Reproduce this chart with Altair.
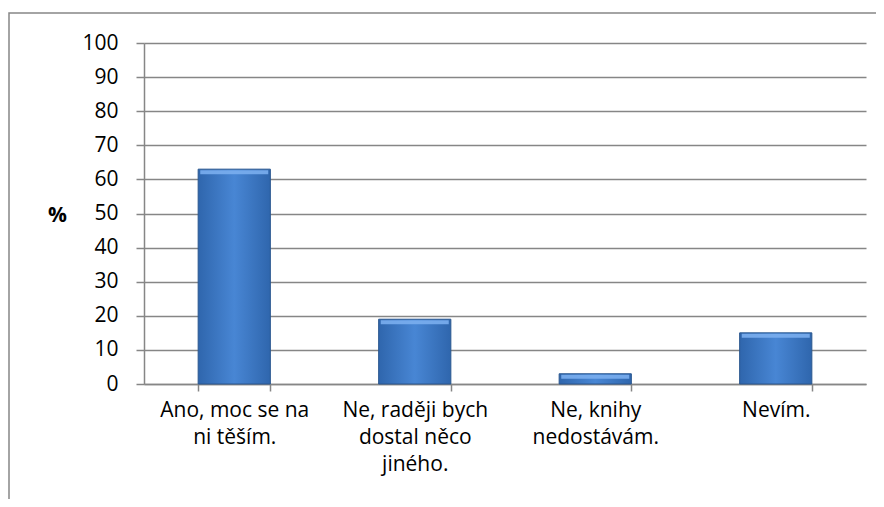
import altair as alt
import pandas as pd

categories = [
    "Ano, moc se na\nni těším.",
    "Ne, raději bych\ndostal něco\njiného.",
    "Ne, knihy\nnedostávám.",
    "Nevím.",
]
values = [63, 19, 3, 15]
y_ticks = list(range(0, 101, 10))

df = pd.DataFrame({"kategorie": categories, "procenta": values})

FONT = "Open Sans"
FS = 21
W, H = 722, 341

x_enc = alt.X(
    "kategorie:N",
    sort=categories,
    scale=alt.Scale(paddingInner=0.6, paddingOuter=0.3),
    axis=alt.Axis(
        title=None,
        labelAngle=0,
        labelExpr="split(datum.label, '\\n')",
        labelFont=FONT,
        labelFontSize=FS,
        labelColor="#000000",
        labelLineHeight=27,
        labelPadding=8,
        labelAlign="center",
        labelBaseline="top",
        labelOverlap=False,
        tickBand="extent",
        tickSize=7,
        tickColor="#868686",
        domainColor="#868686",
        domainWidth=1.5,
        tickWidth=1.5,
        grid=False,
    ),
)

y_enc = alt.Y(
    "procenta:Q",
    scale=alt.Scale(domain=[0, 100], nice=False),
    axis=alt.Axis(
        values=y_ticks,
        title="%",
        titleAngle=0,
        titleFont=FONT,
        titleFontSize=FS,
        titleFontWeight="bold",
        titleColor="#000000",
        titleX=-87,
        titleY=172,
        titleAlign="center",
        titleBaseline="middle",
        labelFont=FONT,
        labelFontSize=FS,
        labelColor="#000000",
        labelPadding=18,
        labelOverlap=False,
        tickSize=8,
        tickColor="#868686",
        tickWidth=1.5,
        domainColor="#868686",
        domainWidth=1.5,
        gridColor="#868686",
        gridWidth=1.5,
    ),
)

bars = alt.Chart(df).mark_bar(
    color=alt.Gradient(
        gradient="linear",
        stops=[
            alt.GradientStop(color="#2f66ad", offset=0),
            alt.GradientStop(color="#4886d4", offset=0.5),
            alt.GradientStop(color="#2f66ad", offset=1),
        ],
        x1=0, x2=1, y1=0, y2=0,
    ),
    stroke="#2a578f",
    strokeWidth=1,
).encode(x=x_enc, y=y_enc)

bevel = alt.Chart(df).mark_tick(
    color="#7aaeee",
    thickness=4,
    size=68,
    yOffset=3,
    opacity=0.9,
).encode(x=x_enc, y=y_enc)

border = alt.Chart(pd.DataFrame({"a": [0]})).mark_rect(
    fill=None, stroke="#868686", strokeWidth=1.5, clip=False
).encode(
    x=alt.value(-135), x2=alt.value(W + 60),
    y=alt.value(-30), y2=alt.value(H + 200),
)

chart = alt.layer(border, bars, bevel).properties(
    width=W, height=H,
    autosize=alt.AutoSizeParams(type="none"),
    padding={"left": 136, "top": 35, "right": 10, "bottom": 115},
    background="#ffffff",
).configure_view(stroke=None).configure_axis(labelOverlap=False)

chart.save("out.html", embed_options={"renderer": "svg", "actions": False})
